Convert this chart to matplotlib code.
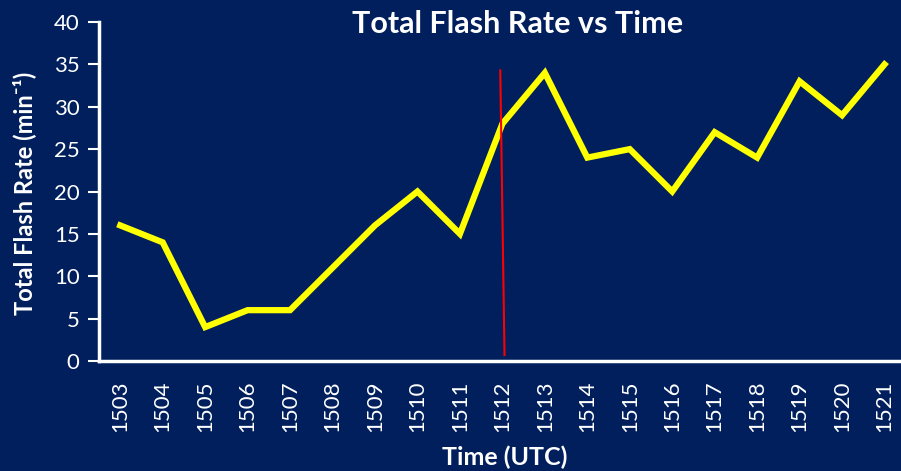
import matplotlib
matplotlib.use('Agg')
import matplotlib.pyplot as plt

# Datos
times = ['1503', '1504', '1505', '1506', '1507', '1508', '1509', '1510', '1511', '1512',
         '1513', '1514', '1515', '1516', '1517', '1518', '1519', '1520', '1521']
flash_rate = [16, 14, 4, 6, 6, 11, 16, 20, 15, 28, 34, 24, 25, 20, 27, 24, 33, 29, 35]

# Línea roja (marca en 1512)
red_x = [8.95, 9.05]
red_y = [34.3, 0.7]

bg = '#001F5C'
fonts = ['Lato', 'DejaVu Sans']

fig = plt.figure(figsize=(9.01, 4.71), dpi=100, facecolor=bg)
ax = fig.add_axes([99/901, 110/471, 1 - 99/901 + 0.01, 339/471])
ax.set_facecolor(bg)

x = list(range(len(times)))
ax.plot(x, flash_rate, color='#FFFF00', lw=4.5, solid_joinstyle='miter', zorder=2)
ax.plot(red_x, red_y, color='#FF0000', lw=1.5, zorder=3)

ax.set_xlim(-0.5, 18.6)
ax.set_ylim(0, 40)
ax.set_yticks(range(0, 41, 5))
ax.set_xticks(x)
ax.set_xticklabels(times, rotation=90, fontsize=16, color='white', family=fonts)
for lab in ax.get_yticklabels():
    lab.set_family(fonts)
ax.tick_params(axis='y', colors='white', labelsize=16, length=8, width=1.5, direction='out', pad=6)
ax.tick_params(axis='x', length=0, pad=14)

for s in ['top', 'right']:
    ax.spines[s].set_visible(False)
for s in ['left', 'bottom']:
    ax.spines[s].set_color('white')
    ax.spines[s].set_linewidth(2.5)

fig.text(518/901, 1 - 24/471, 'Total Flash Rate vs Time', ha='center', va='center',
         color='white', fontsize=22, fontweight='bold', family=fonts)
fig.text(505/901, 1 - 457/471, 'Time (UTC)', ha='center', va='center',
         color='white', fontsize=18, fontweight='bold', family=fonts)
fig.text(24/901, 1 - 193/471, 'Total Flash Rate (min⁻¹)', ha='center', va='center',
         rotation=90, color='white', fontsize=17, fontweight='bold', family=fonts)

fig.savefig('out.png', dpi=100, facecolor=bg)
